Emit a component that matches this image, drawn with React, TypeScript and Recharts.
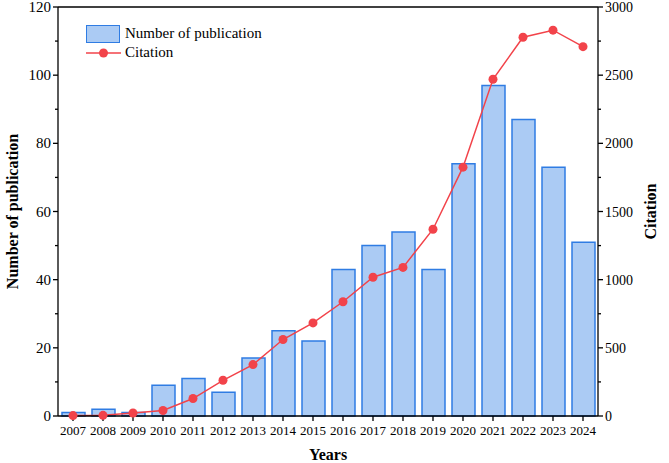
import {
  ComposedChart,
  Bar,
  Line,
  XAxis,
  YAxis,
  Legend,
  ReferenceLine,
} from "recharts";

const years = [
  "2007", "2008", "2009", "2010", "2011", "2012", "2013", "2014", "2015",
  "2016", "2017", "2018", "2019", "2020", "2021", "2022", "2023", "2024",
];
const publications = [1, 2, 1, 9, 11, 7, 17, 25, 22, 43, 50, 54, 43, 74, 97, 87, 73, 51];
const citations = [3, 5, 22, 40, 128, 262, 377, 561, 683, 838, 1018, 1090, 1370, 1825, 2470, 2778, 2830, 2709];

const leftTicks = [0, 10, 20, 30, 40, 50, 60, 70, 80, 90, 100, 110, 120];
const rightTicks = [0, 250, 500, 750, 1000, 1250, 1500, 1750, 2000, 2250, 2500, 2750, 3000];

const FONT = '"Liberation Serif", "Times New Roman", serif';
const BAR_FILL = "#abcbf4";
const BAR_STROKE = "#2f7ce3";
const LINE_COLOR = "#f2434a";

const data = years.map((y, i) => ({
  year: y,
  pubs: publications[i],
  cites: citations[i],
}));

// axis ticks: majors get a label, minors only a short mark
const LeftTick = (props: any) => {
  const { x, y, payload } = props;
  const major = payload.value % 20 === 0;
  return (
    <g>
      <line x1={x - (major ? 5 : 3)} x2={x} y1={y} y2={y} stroke="#000" strokeWidth={1.3} />
      {major && (
        <text x={x - 7} y={y} dy={5} textAnchor="end" style={{ fontSize: 15, fontFamily: FONT, fill: "#000" }}>
          {payload.value}
        </text>
      )}
    </g>
  );
};

const RightTick = (props: any) => {
  const { x, y, payload } = props;
  const major = payload.value % 500 === 0;
  return (
    <g>
      <line x1={x} x2={x + (major ? 5 : 3)} y1={y} y2={y} stroke="#000" strokeWidth={1.3} />
      {major && (
        <text x={x + 7} y={y} dy={5} textAnchor="start" style={{ fontSize: 14, fontFamily: FONT, fill: "#000" }}>
          {payload.value}
        </text>
      )}
    </g>
  );
};

const YearTick = (props: any) => {
  const { x, y, payload } = props;
  return (
    <text x={x} y={y} dy={11} textAnchor="middle" style={{ fontSize: 13, fontFamily: FONT, fill: "#000" }}>
      {payload.value}
    </text>
  );
};

const renderLegend = () => (
  <div style={{ fontFamily: FONT, fontSize: 15, color: "#000", lineHeight: "19px" }}>
    <div style={{ display: "flex", alignItems: "center" }}>
      <span
        style={{
          display: "inline-block",
          width: 32,
          height: 16,
          background: BAR_FILL,
          border: `1.5px solid ${BAR_STROKE}`,
          marginRight: 5,
        }}
      />
      Number of publication
    </div>
    <div style={{ display: "flex", alignItems: "center" }}>
      <svg width={35} height={12} style={{ marginRight: 4 }}>
        <line x1={0} x2={35} y1={6} y2={6} stroke={LINE_COLOR} strokeWidth={1.5} />
        <circle cx={17.5} cy={6} r={4.5} fill={LINE_COLOR} />
      </svg>
      Citation
    </div>
  </div>
);

const titleStyle = { textAnchor: "middle", fontSize: 16, fontWeight: "bold", fontFamily: FONT, fill: "#000" } as any;

export default function App() {
  return (
    <div style={{ position: "absolute", left: 0, top: 0, width: 669, height: 463, background: "#fff", fontFamily: FONT }}>
      <ComposedChart
        width={669}
        height={463}
        data={data}
        margin={{ top: 7, right: 0, bottom: 0, left: 0 }}
        barSize={23}
        style={{ fontFamily: FONT }}
      >
        <XAxis
          dataKey="year"
          interval={0}
          height={47}
          stroke="#000"
          strokeWidth={1.3}
          tickSize={5}
          tickMargin={3}
          tick={<YearTick />}
          label={{
            value: "Years",
            position: "insideBottom",
            offset: 3,
            style: titleStyle,
          }}
        />
        <YAxis
          yAxisId="left"
          orientation="left"
          width={58}
          domain={[0, 120]}
          ticks={leftTicks}
          interval={0}
          tickSize={0}
          tickMargin={0}
          tickLine={false}
          stroke="#000"
          strokeWidth={1.3}
          tick={<LeftTick />}
          label={{
            value: "Number of publication",
            angle: -90,
            position: "insideLeft",
            offset: 12,
            style: titleStyle,
          }}
        />
        <YAxis
          yAxisId="right"
          orientation="right"
          width={71}
          domain={[0, 3000]}
          ticks={rightTicks}
          interval={0}
          tickSize={0}
          tickMargin={0}
          tickLine={false}
          stroke="#000"
          strokeWidth={1.3}
          tick={<RightTick />}
          label={{
            value: "Citation",
            angle: -90,
            position: "insideRight",
            offset: 19,
            style: titleStyle,
          }}
        />
        <ReferenceLine yAxisId="left" y={120} stroke="#000" strokeWidth={1.3} ifOverflow="visible" />
        <Legend
          layout="vertical"
          align="center"
          verticalAlign="middle"
          content={renderLegend}
          wrapperStyle={{ top: 24, left: 86, width: "auto", height: "auto" }}
        />
        <Bar
          yAxisId="left"
          dataKey="pubs"
          name="Number of publication"
          fill={BAR_FILL}
          stroke={BAR_STROKE}
          strokeWidth={1.5}
          isAnimationActive={false}
        />
        <Line
          yAxisId="right"
          dataKey="cites"
          name="Citation"
          type="linear"
          stroke={LINE_COLOR}
          strokeWidth={1.5}
          dot={{ r: 4.5, fill: LINE_COLOR, stroke: LINE_COLOR, strokeWidth: 0 }}
          activeDot={false}
          isAnimationActive={false}
        />
      </ComposedChart>
    </div>
  );
}
